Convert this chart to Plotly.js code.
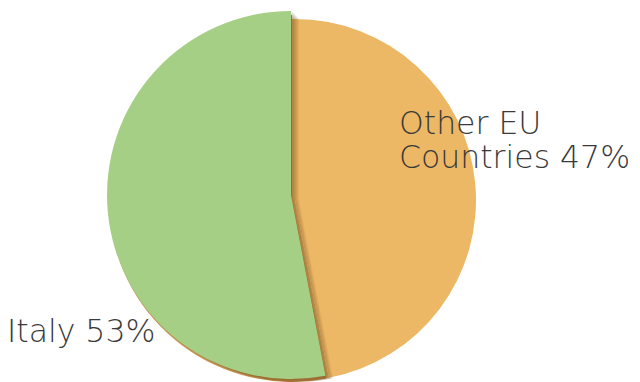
<!DOCTYPE html>
<html><head><meta charset="utf-8">
<script src="https://cdn.plot.ly/plotly-3.0.1.min.js"></script>
<style>html,body{margin:0;padding:0;background:#fff}#chart{width:640px;height:382px}</style>
</head><body><div id="chart"></div>
<script>
const labels = ["Other EU Countries", "Italy"];
const values = [47, 53];
const colors = ["#ECB866", "#A6CF86"];

const W = 640, H = 382;
function dom(cxp, cyp, r) {
  return {x: [(cxp - r) / W, (cxp + r) / W], y: [(H - cyp - r) / H, (H - cyp + r) / H]};
}
const T = "rgba(0,0,0,0)";
function pieTrace(cols, cxp, cyp, r) {
  return {
    type: "pie", labels: labels, values: values, sort: false, direction: "clockwise", rotation: 0,
    marker: {colors: cols, line: {width: 0}}, textinfo: "none", hoverinfo: "skip", showlegend: false,
    domain: dom(cxp, cyp, r)
  };
}

const traces = [
  pieTrace([colors[0], colors[0]], 295, 200, 181),       // Other EU disc
  pieTrace([T, "#C4934F"], 292, 199, 184)                // rim under Italy slice
];
// soft drop shadow of the Italy slice onto the Other EU slice
[[2,1],[3,2],[4,3],[5,4],[6,5],[7,6],[8,7]].forEach(function (o) {
  traces.push(pieTrace([T, "rgba(100,60,15,0.07)"], 291 + o[0], 195 + o[1], 184));
});
traces.push(pieTrace([T, colors[1]], 291, 195, 184));   // Italy slice

const font = {family: "'DejaVu Sans', Lato, sans-serif", size: 31.5, color: "#3a3a3a", weight: 200};
const otherWords = labels[0].split(" ");
function ann(text, xp, yp) {
  return {text: text, x: xp / W, y: 1 - yp / H, xref: "paper", yref: "paper",
          xanchor: "left", yanchor: "middle", align: "left", showarrow: false, font: font};
}
const layout = {
  width: W, height: H, margin: {l: 0, r: 0, t: 0, b: 0},
  paper_bgcolor: "#fff", showlegend: false,
  annotations: [
    ann(otherWords[0] + " " + otherWords[1], 397, 123),
    ann(otherWords[2] + " " + values[0] + "%", 397, 157),
    ann(labels[1] + " " + values[1] + "%", 5, 331)
  ]
};
Plotly.newPlot("chart", traces, layout, {staticPlot: true});
</script></body></html>
